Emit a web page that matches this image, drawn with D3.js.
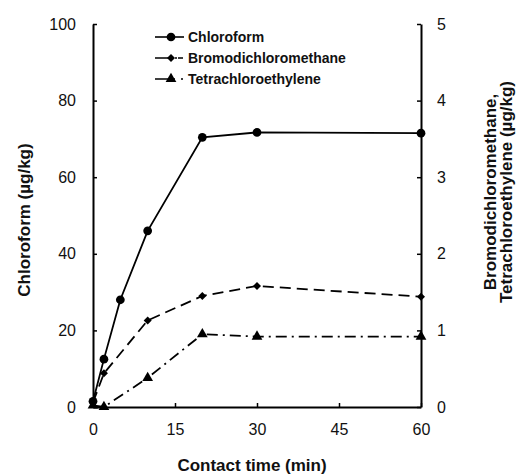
<!DOCTYPE html>
<html><head><meta charset="utf-8">
<script src="https://cdn.jsdelivr.net/npm/d3@7"></script>
<style>
html,body{margin:0;padding:0;background:#fff;}
svg{display:block;font-family:"Liberation Sans",Arial,sans-serif;}
</style></head>
<body>
<svg id="c" width="525" height="476"></svg>
<script>
// ---- data ----
const time = [0, 2, 5, 10, 20, 30, 60];
const chloroform = [1.5, 12.5, 28, 46, 70.4, 71.7, 71.5];
const timeB = [0, 2, 10, 20, 30, 60];
const bromodichloromethane = [0.06, 0.44, 1.13, 1.45, 1.58, 1.44];
const timeT = [0, 2, 10, 20, 30, 60];
const tetrachloroethylene = [0.02, 0.0, 0.38, 0.95, 0.92, 0.92];
const xTicks = [0, 15, 30, 45, 60];
const yLeftTicks = [0, 20, 40, 60, 80, 100];
const yRightTicks = [0, 1, 2, 3, 4, 5];
const seriesNames = ["Chloroform", "Bromodichloromethane", "Tetrachloroethylene"];

const svg = d3.select("#c");
const x = d3.scaleLinear().domain([0, 60]).range([93, 421]);
const yL = d3.scaleLinear().domain([0, 100]).range([407, 24]);
const yR = d3.scaleLinear().domain([0, 5]).range([407, 24]);

// axes
const axL = svg.append("g").attr("transform", `translate(${x(0)},0)`)
  .call(d3.axisLeft(yL).tickValues(yLeftTicks).tickFormat(d3.format("d")).tickSizeInner(-4).tickSizeOuter(0).tickPadding(17));
const axR = svg.append("g").attr("transform", `translate(${x(60)},0)`)
  .call(d3.axisRight(yR).tickValues(yRightTicks).tickFormat(d3.format("d")).tickSizeInner(-4).tickSizeOuter(0).tickPadding(16));
const axB = svg.append("g").attr("transform", `translate(0,${yL(0)})`)
  .call(d3.axisBottom(x).tickValues(xTicks).tickFormat(d3.format("d")).tickSizeInner(-4).tickSizeOuter(0).tickPadding(17));
[axL, axR, axB].forEach(a => {
  a.selectAll("path.domain").attr("stroke", "#000").attr("stroke-width", 2);
  a.selectAll(".tick line").attr("stroke", "#000").attr("stroke-width", 1.5);
  a.selectAll(".tick text").attr("font-size", 16).attr("fill", "#111")
    .attr("font-family", '"Liberation Sans",Arial,sans-serif');
});

// lines
function drawSeries(xs, ys, yScale, dash, marker) {
  const pts = xs.map((t, i) => [x(t), yScale(ys[i])]);
  svg.append("path").datum(pts)
    .attr("d", d3.line())
    .attr("fill", "none").attr("stroke", "#000").attr("stroke-width", 1.8)
    .attr("stroke-dasharray", dash);
  svg.append("g").selectAll("path").data(pts).join("path")
    .attr("transform", d => `translate(${d[0]},${d[1]}) rotate(${marker.rot || 0})`)
    .attr("d", d3.symbol().type(marker.type).size(marker.size))
    .attr("fill", "#000");
}
const mC = {type: d3.symbolCircle, size: 60};
const mB = {type: d3.symbolSquare, size: 32, rot: 45};
const mT = {type: d3.symbolTriangle, size: 50};
drawSeries(time, chloroform, yL, null, mC);
drawSeries(timeB, bromodichloromethane, yR, "11,6", mB);
drawSeries(timeT, tetrachloroethylene, yR, "11,5,2,5", mT);

// legend
const leg = [
  {name: seriesNames[0], dash: null, m: mC, y: 37},
  {name: seriesNames[1], dash: "16,4,2,1,5", m: mB, y: 58},
  {name: seriesNames[2], dash: "20,6,2,6", m: mT, y: 79}
];
leg.forEach(l => {
  svg.append("line").attr("x1", 155).attr("x2", 184).attr("y1", l.y).attr("y2", l.y)
    .attr("stroke", "#000").attr("stroke-width", 1.6).attr("stroke-dasharray", l.dash);
  svg.append("path").attr("transform", `translate(171,${l.y}) rotate(${l.m.rot || 0})`)
    .attr("d", d3.symbol().type(l.m.type).size(l.m.size)).attr("fill", "#000");
  svg.append("text").attr("x", 188).attr("y", l.y).attr("dy", "0.35em")
    .attr("font-size", 14).attr("font-weight", "bold").attr("fill", "#111").text(l.name);
});

// titles
svg.append("text").attr("x", 252).attr("y", 471).attr("text-anchor", "middle")
  .attr("font-size", 17).attr("font-weight", "bold").attr("fill", "#111").text("Contact time (min)");
svg.append("text").attr("transform", "translate(24,220) rotate(-90)").attr("text-anchor", "middle")
  .attr("dy", "0.35em").attr("font-size", 17).attr("font-weight", "bold").attr("fill", "#111")
  .text("Chloroform (µg/kg)");
svg.append("text").attr("transform", "translate(490,192) rotate(-90)").attr("text-anchor", "middle")
  .attr("dy", "0.35em").attr("font-size", 17).attr("font-weight", "bold").attr("fill", "#111")
  .text("Bromodichloromethane,");
svg.append("text").attr("transform", "translate(506,192) rotate(-90)").attr("text-anchor", "middle")
  .attr("dy", "0.35em").attr("font-size", 17).attr("font-weight", "bold").attr("fill", "#111")
  .text("Tetrachloroethylene (µg/kg)");
</script>
</body></html>
